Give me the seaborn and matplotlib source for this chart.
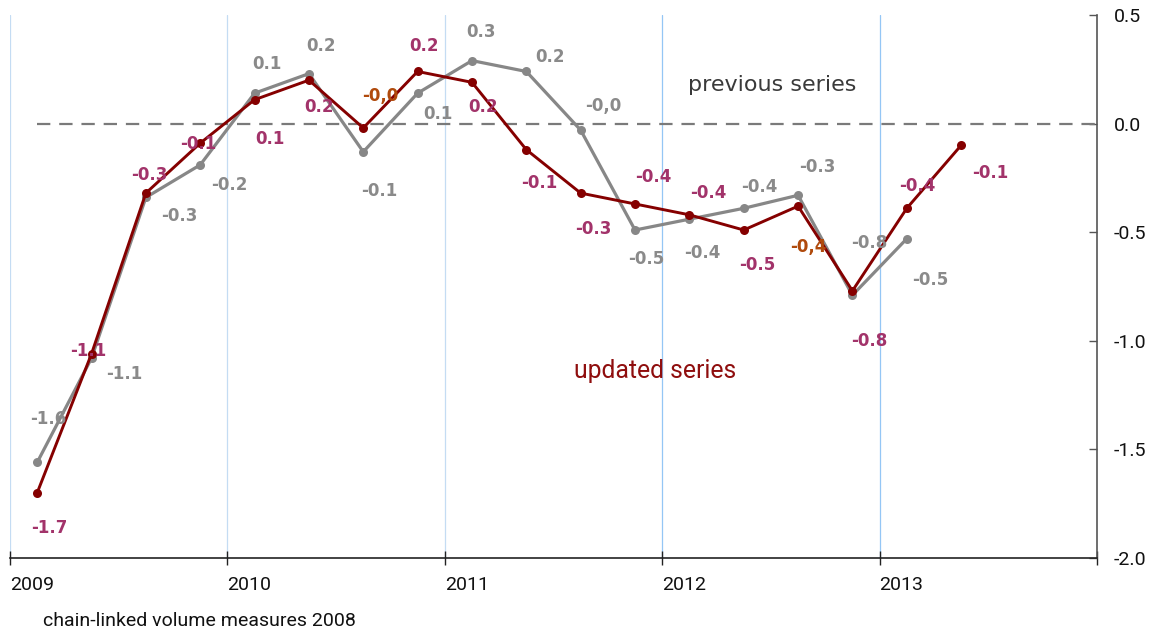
import matplotlib
matplotlib.use("Agg")
import matplotlib.pyplot as plt
import numpy as np
import pandas as pd
import seaborn as sns

# Quarterly growth, chain-linked volumes (reference year 2008)
years = [2009, 2010, 2011, 2012, 2013]
previous_values = [-1.56, -1.08, -0.34, -0.19, 0.14, 0.23, -0.13, 0.14, 0.29,
                   0.24, -0.03, -0.49, -0.44, -0.39, -0.33, -0.79, -0.53]
updated_values = [-1.70, -1.06, -0.32, -0.09, 0.11, 0.20, -0.02, 0.24, 0.19,
                  -0.12, -0.32, -0.37, -0.42, -0.49, -0.38, -0.77, -0.39, -0.10]
y_ticks = [0.5, 0.0, -0.5, -1.0, -1.5, -2.0]

# label placement (pixel offsets: right, down) and decimal-comma points
previous_offsets = [(11, -43), (33, 16), (33, 19), (29, 20), (12, -29), (12, -28),
                    (16, 39), (20, 21), (9, -29), (24, -14), (23, -24), (11, 29),
                    (13, 34), (16, -21), (19, -28), (17, -52), (23, 41)]
updated_offsets = [(12, 35), (-3, -3), (3, -18), (-2, 1), (15, 39), (10, 27),
                   (17, -32), (6, -25), (11, 25), (13, 33), (13, 36), (18, -27),
                   (19, -22), (14, 35), (10, 41), (17, 50), (11, -22), (29, 28)]
previous_comma = {10}
updated_comma = {6, 14}

GREY_LINE = "#878787"
GREY_TEXT = "#8a8a8a"
RED_LINE = "#850000"
RED_TEXT = "#a2336a"
ORANGE_TEXT = "#b04a0c"


def quarter_pos(n):
    return [years[0] + (i + 0.5) / 4 for i in range(n)]


prev_df = pd.DataFrame({"x": quarter_pos(len(previous_values)), "v": previous_values})
upd_df = pd.DataFrame({"x": quarter_pos(len(updated_values)), "v": updated_values})

sns.set_theme(style="white")
plt.rcParams["font.family"] = ["Roboto", "DejaVu Sans"]

fig = plt.figure(figsize=(11.61, 6.36), dpi=100)
ax = fig.add_axes([10 / 1161, 1 - 558 / 636, (1097 - 10) / 1161, (558 - 15) / 636])

# year separators
for yr in years:
    ax.axvline(yr, color="#c4dcf3" if yr < 2012 else "#94c6f5", lw=0.9, zorder=0)

# zero reference line
ax.hlines(0, prev_df["x"].iloc[0], years[-1] + 1, colors="#7a7a7a", lw=1.6,
          linestyles=(0, (6, 4)), zorder=1)

sns.lineplot(data=prev_df, x="x", y="v", ax=ax, color=GREY_LINE, lw=2.3,
             marker="o", markersize=6.5, markeredgewidth=0, zorder=3)
sns.lineplot(data=upd_df, x="x", y="v", ax=ax, color=RED_LINE, lw=2.1,
             marker="o", markersize=6.5, markeredgewidth=0, zorder=4)


def fmt(v, comma):
    s = f"{v:.1f}"
    return s.replace(".", ",") if comma else s


for i, (x, v) in enumerate(zip(prev_df["x"], prev_df["v"])):
    dx, dy = previous_offsets[i]
    ax.annotate(fmt(v, i in previous_comma), (x, v), xytext=(dx, -dy),
                textcoords="offset pixels", ha="center", va="center",
                fontsize=12, fontweight="bold", color=GREY_TEXT,
                family="DejaVu Sans", zorder=5)

for i, (x, v) in enumerate(zip(upd_df["x"], upd_df["v"])):
    dx, dy = updated_offsets[i]
    col = ORANGE_TEXT if i in updated_comma else RED_TEXT
    ax.annotate(fmt(v, i in updated_comma), (x, v), xytext=(dx, -dy),
                textcoords="offset pixels", ha="center", va="center",
                fontsize=12, fontweight="bold", color=col,
                family="DejaVu Sans", zorder=6)

# series names
ax.text(2012.508, 0.179, "previous series", ha="center", va="center",
        fontsize=16, color="#3a3a3a", family="DejaVu Sans")
ax.text(2011.966, -1.14, "updated series", ha="center", va="center",
        fontsize=17.8, color="#8f0e0e")

ax.set_xlim(years[0], years[-1] + 1)
ax.set_ylim(y_ticks[-1], y_ticks[0])
ax.set_xlabel("")
ax.set_ylabel("")

ax.set_xticks(years + [years[-1] + 1])
ax.set_xticklabels([str(y) for y in years] + [""], ha="left")
ax.set_yticks(y_ticks)
ax.set_yticklabels([f"{t:.1f}" for t in y_ticks])
ax.yaxis.tick_right()

ax.tick_params(axis="x", direction="inout", length=10, width=1, color="#222222",
               pad=8, labelsize=14, labelcolor="#111111", bottom=True)
ax.tick_params(axis="y", direction="in", length=5.5, width=1, color="#555555",
               pad=12, labelsize=14, labelcolor="#111111", right=True, left=False)

for side in ("top", "left"):
    ax.spines[side].set_visible(False)
ax.spines["right"].set_color("#555555")
ax.spines["right"].set_linewidth(1.2)
ax.spines["bottom"].set_color("#222222")
ax.spines["bottom"].set_linewidth(1.2)
ax.grid(False)

fig.text(43 / 1161, 1 - 621 / 636, "chain-linked volume measures 2008",
         ha="left", va="center", fontsize=14, color="#111111")

fig.savefig("out.png", dpi=100, facecolor="white")
